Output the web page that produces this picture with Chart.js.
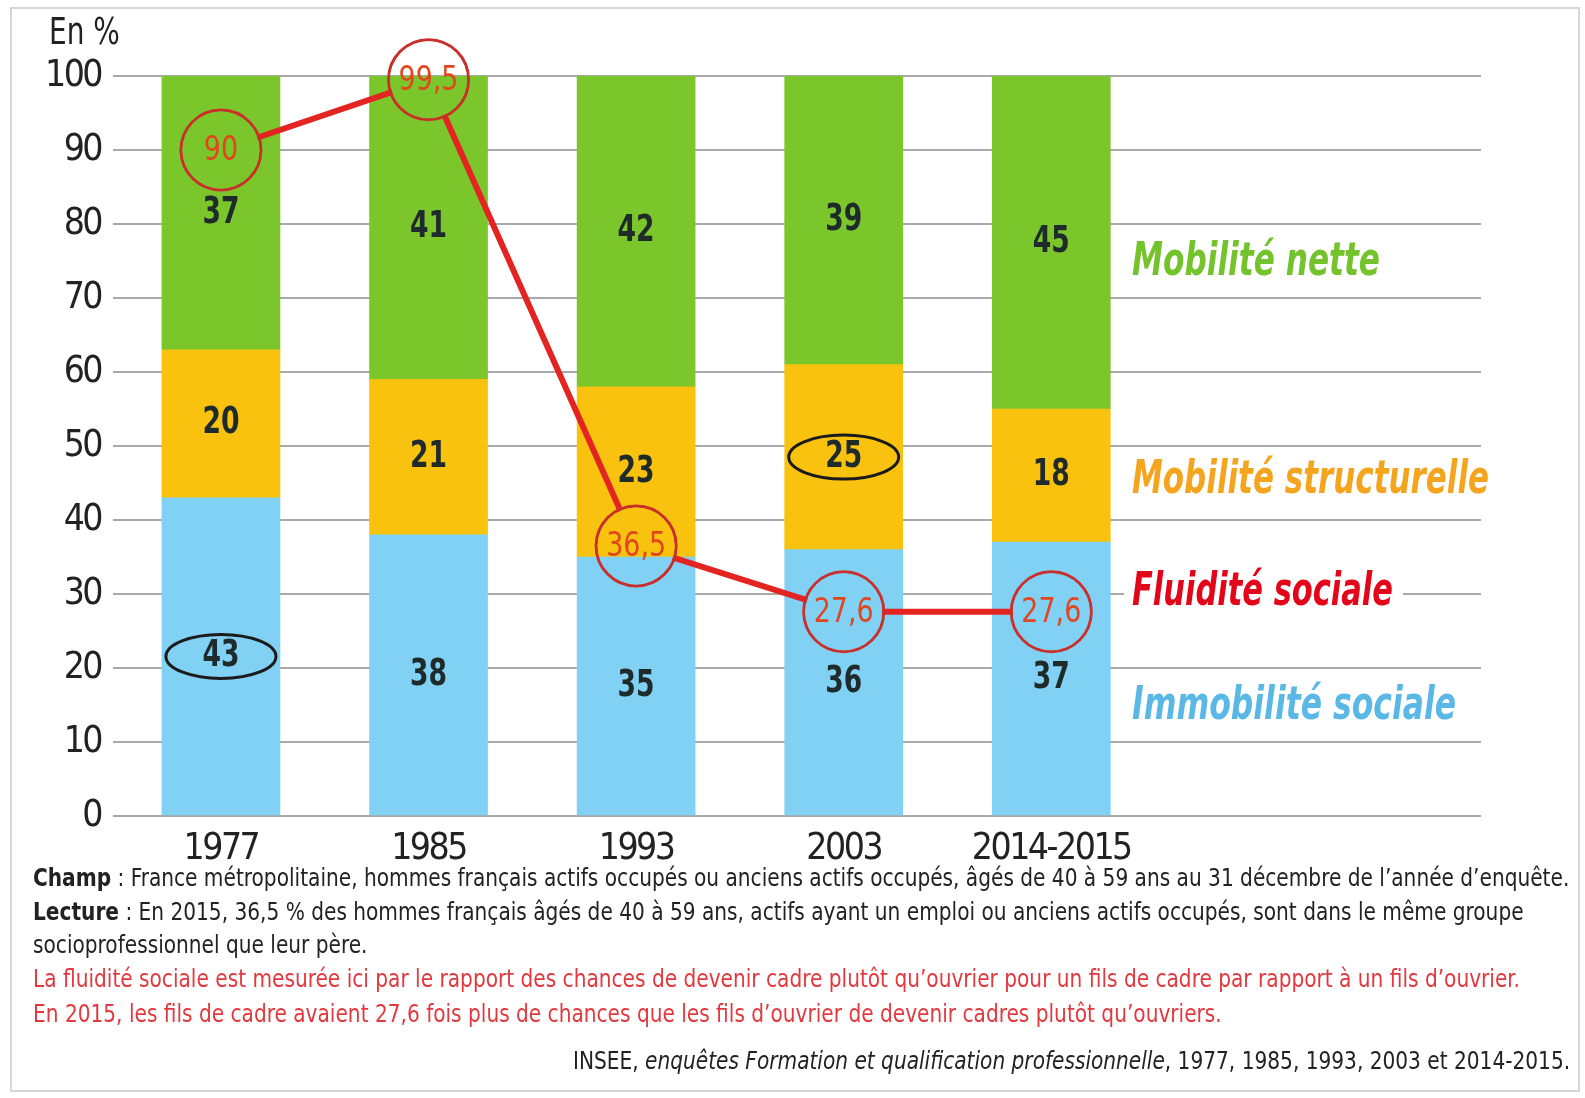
<!DOCTYPE html>
<html><head><meta charset="utf-8">
<script src="https://cdn.jsdelivr.net/npm/chart.js@4.4.1/dist/chart.umd.min.js"></script>
<style>
html,body{margin:0;padding:0;background:#fff;}
#wrap{position:relative;width:1585px;height:1098px;overflow:hidden;background:#fff;}
#frame{position:absolute;left:10px;top:7px;width:1570px;height:1085px;border:2px solid #d6d6d6;box-sizing:border-box;}
canvas{position:absolute;left:0;top:0;}
.note{position:absolute;left:33px;white-space:nowrap;font-size:24px;line-height:24px;color:#222;transform-origin:0 50%;}
.red{color:#e3383e;}
#n6{left:auto;right:15px;transform-origin:100% 50%;}
</style></head>
<body><div id="wrap"><div id="frame"></div><canvas id="c" width="1585" height="1098"></canvas>
<div class="note" id="n1" style="top:866px"><b>Champ</b> : France métropolitaine, hommes français actifs occupés ou anciens actifs occupés, âgés de 40 à 59 ans au 31 décembre de l’année d’enquête.</div>
<div class="note" id="n2" style="top:900px"><b>Lecture</b> : En 2015, 36,5 % des hommes français âgés de 40 à 59 ans, actifs ayant un emploi ou anciens actifs occupés, sont dans le même groupe</div>
<div class="note" id="n3" style="top:933px">socioprofessionnel que leur père.</div>
<div class="note red" id="n4" style="top:967px">La fluidité sociale est mesurée ici par le rapport des chances de devenir cadre plutôt qu’ouvrier pour un fils de cadre par rapport à un fils d’ouvrier.</div>
<div class="note red" id="n5" style="top:1002px">En 2015, les fils de cadre avaient 27,6 fois plus de chances que les fils d’ouvrier de devenir cadres plutôt qu’ouvriers.</div>
<div class="note" id="n6" style="top:1049px">INSEE, <i>enquêtes Formation et qualification professionnelle</i>, 1977, 1985, 1993, 2003 et 2014-2015.</div>
</div>
<script>
// ---- data ----
const categories = ['1977', '1985', '1993', '2003', '2014-2015'];
const immobilite = [43, 38, 35, 36, 37];
const structurelle = [20, 21, 23, 25, 18];
const nette = [37, 41, 42, 39, 45];
const fluidite = [90, 99.5, 36.5, 27.6, 27.6];
const seriesNames = ['Immobilité sociale', 'Mobilité structurelle', 'Mobilité nette', 'Fluidité sociale'];
const yUnit = 'En %';
// labels circled in black in the original: [series index, category index]
const circled = [[0, 0], [1, 3]];

// ---- font pick ----
function fontAvailable(name) {
  const c = document.createElement('canvas').getContext('2d');
  const s = 'mmmmmmmmmmlli1234567890WWWabc';
  c.font = '50px monospace'; const a = c.measureText(s).width;
  c.font = '50px "' + name + '", monospace'; const b = c.measureText(s).width;
  c.font = '50px serif'; const a2 = c.measureText(s).width;
  c.font = '50px "' + name + '", serif'; const b2 = c.measureText(s).width;
  return a !== b && a2 !== b2;
}
const narrowCandidates = ['Liberation Sans Narrow', 'DejaVu Sans Condensed', 'Roboto Condensed', 'Open Sans Condensed'];
let FAM = null;
for (const n of narrowCandidates) { if (fontAvailable(n)) { FAM = n; break; } }
const COND = FAM ? 1 : 0.85;
if (!FAM) FAM = 'Liberation Sans';
const FONTSTACK = '"' + FAM + '", "Liberation Sans", sans-serif';
document.querySelectorAll('.note').forEach(n => n.style.fontFamily = FONTSTACK);

// ---- footer condensation ----
(function () {
  const n1 = document.getElementById('n1');
  const k = 1536 / n1.scrollWidth;
  document.querySelectorAll('.note').forEach(n => n.style.transform = 'scaleX(' + k + ')');
})();

const colors = { immobilite: '#80d1f4', structurelle: '#f8c20e', nette: '#7bc62b', line: '#e42421', circle: '#c9302b' };
const labelColors = ['#5ab8e6', '#f5a41d', '#74c22c', '#e3061b'];

function txt(ctx, s, x, y, font, color, align, sx) {
  ctx.save();
  ctx.font = font; ctx.fillStyle = color; ctx.textAlign = align || 'center'; ctx.textBaseline = 'middle';
  ctx.translate(x, y); ctx.scale(sx || 1, 1); ctx.fillText(s, 0, 0);
  ctx.restore();
}
function fmt(v) { return String(v).replace('.', ','); }

const R = 40, RB = 3;
// tighter tracking for the axis tick labels (condensed look)
const trackingPlugin = {
  id: 'tracking',
  beforeDraw(chart) { chart.ctx.letterSpacing = '-2.5px'; },
  beforeDatasetsDraw(chart) { chart.ctx.letterSpacing = '0px'; }
};
const clipPlugin = {
  id: 'circleClip',
  beforeDatasetDraw(chart, args) {
    if (chart.data.datasets[args.index].type !== 'line') return;
    const ctx = chart.ctx; ctx.save();
    ctx.beginPath(); ctx.rect(0, 0, chart.width, chart.height);
    args.meta.data.forEach(p => { ctx.moveTo(p.x + R - RB / 2, p.y); ctx.arc(p.x, p.y, R - RB / 2, 0, Math.PI * 2, true); });
    ctx.clip('evenodd');
  },
  afterDatasetDraw(chart, args) {
    if (chart.data.datasets[args.index].type !== 'line') return;
    chart.ctx.restore();
  }
};

const labelPlugin = {
  id: 'labels',
  afterDraw(chart) {
    const ctx = chart.ctx;
    ctx.letterSpacing = '0px';
    const ys = chart.scales.y;
    const valueArrays = [immobilite, structurelle, nette];
    // bar segment values
    valueArrays.forEach((arr, di) => {
      const meta = chart.getDatasetMeta(di);
      meta.data.forEach((bar, i) => {
        const y = (bar.y + bar.base) / 2;
        txt(ctx, fmt(arr[i]), bar.x, y, '600 37px ' + FONTSTACK, '#1f2b2b', 'center', 0.8 * COND);
        if (circled.some(c => c[0] === di && c[1] === i)) {
          ctx.save(); ctx.strokeStyle = '#1b1b1b'; ctx.lineWidth = 3;
          ctx.beginPath(); ctx.ellipse(bar.x, y, 55, 22, 0, 0, Math.PI * 2); ctx.stroke(); ctx.restore();
        }
      });
    });
    // circle values for the line
    const lm = chart.getDatasetMeta(3);
    lm.data.forEach((p, i) => {
      txt(ctx, fmt(fluidite[i]), p.x, p.y + 1, '34px ' + FONTSTACK, '#e2461f', 'center', 0.88 * COND);
    });
    // unit label
    txt(ctx, yUnit, 49, 34, '37px ' + FONTSTACK, '#222', 'left', 0.84 * COND);
    // right-side series names
    const x0 = 1132;
    const anchors = [14.7, 45.3, 74.7, 30.1];
    const widths = [324, 357, 248, 261];
    seriesNames.forEach((name, k) => {
      const y = ys.getPixelForValue(anchors[k]);
      const font = 'italic bold 46px ' + FONTSTACK;
      ctx.save(); ctx.font = font; const w = ctx.measureText(name).width; ctx.restore();
      if (k === 3) { ctx.save(); ctx.fillStyle = '#fff'; ctx.fillRect(x0 - 8, y - 8, widths[k] + 18, 16); ctx.restore(); }
      txt(ctx, name, x0, y, font, labelColors[k], 'left', widths[k] / w);
    });
  }
};

const mk = arr => categories.map((c, i) => ({ x: i, y: arr[i] }));

new Chart(document.getElementById('c'), {
  type: 'bar',
  data: {
    datasets: [
      { type: 'bar', label: seriesNames[0], data: mk(immobilite), backgroundColor: colors.immobilite, barThickness: 118, order: 2, stack: 's' },
      { type: 'bar', label: seriesNames[1], data: mk(structurelle), backgroundColor: colors.structurelle, barThickness: 118, order: 2, stack: 's' },
      { type: 'bar', label: seriesNames[2], data: mk(nette), backgroundColor: colors.nette, barThickness: 118, order: 2, stack: 's' },
      { type: 'line', label: seriesNames[3], data: mk(fluidite), borderColor: colors.line, borderWidth: 6, tension: 0,
        pointRadius: R, pointHoverRadius: R, pointBackgroundColor: 'rgba(0,0,0,0)', pointBorderColor: colors.circle, pointBorderWidth: RB,
        order: 0, clip: false, stack: 'f' }
    ]
  },
  options: {
    responsive: false, animation: false, devicePixelRatio: 1, events: [],
    layout: { padding: { top: 76, right: 104, left: 0, bottom: 0 } },
    plugins: { legend: { display: false }, tooltip: { enabled: false } },
    scales: {
      x: {
        type: 'linear', min: -0.52, max: 6.07, stacked: true, offset: false,
        grid: { display: false }, border: { display: false },
        afterBuildTicks: s => { s.ticks = categories.map((c, i) => ({ value: i })); },
        ticks: { callback: v => categories[v] ?? '', font: { family: FONTSTACK, size: 37 }, color: '#222', padding: 3, maxRotation: 0, autoSkip: false },
        afterFit: s => { s.height = 282; }
      },
      y: {
        min: 0, max: 100, stacked: true,
        ticks: { stepSize: 10, font: { family: FONTSTACK, size: 37 }, color: '#222', padding: 12 },
        grid: { color: '#a9a9a9', lineWidth: 2, drawTicks: false },
        border: { display: false },
        afterFit: s => { s.width = 113; }
      }
    }
  },
  plugins: [trackingPlugin, clipPlugin, labelPlugin]
});
</script>
</body></html>
